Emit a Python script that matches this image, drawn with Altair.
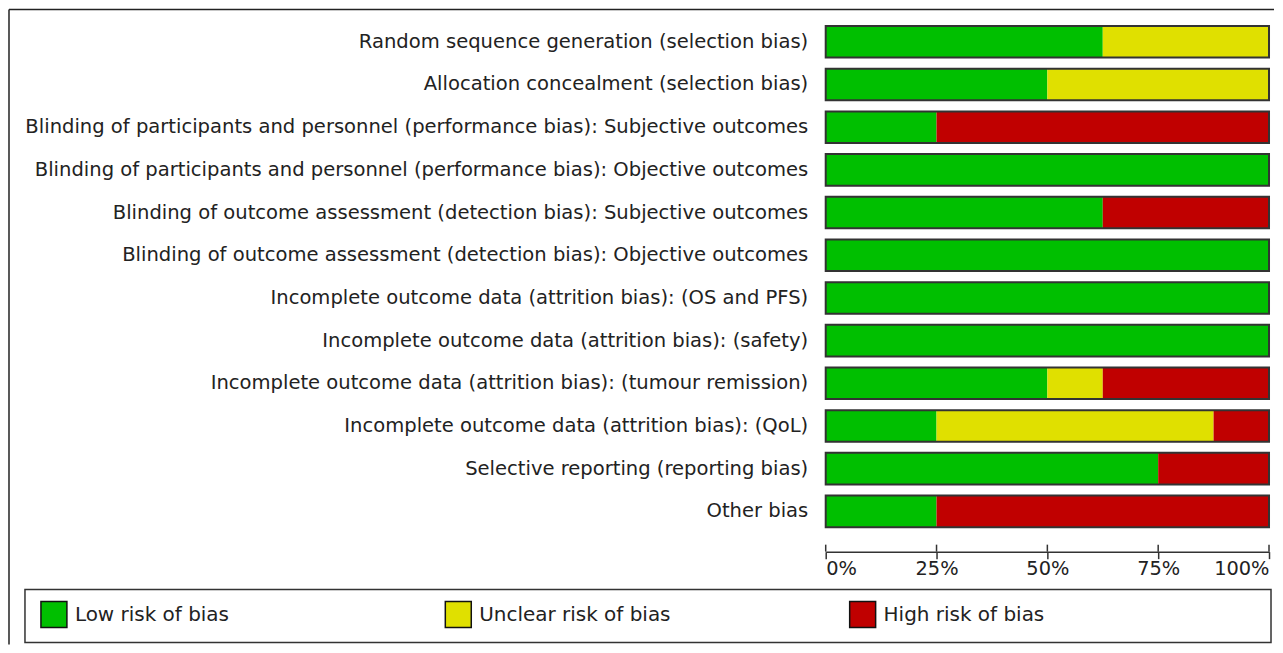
import altair as alt
import pandas as pd

domains = [
    "Random sequence generation (selection bias)",
    "Allocation concealment (selection bias)",
    "Blinding of participants and personnel (performance bias): Subjective outcomes",
    "Blinding of participants and personnel (performance bias): Objective outcomes",
    "Blinding of outcome assessment (detection bias): Subjective outcomes",
    "Blinding of outcome assessment (detection bias): Objective outcomes",
    "Incomplete outcome data (attrition bias): (OS and PFS)",
    "Incomplete outcome data (attrition bias): (safety)",
    "Incomplete outcome data (attrition bias): (tumour remission)",
    "Incomplete outcome data (attrition bias): (QoL)",
    "Selective reporting (reporting bias)",
    "Other bias",
]
low = [62.5, 50, 25, 100, 62.5, 100, 100, 100, 50, 25, 75, 25]
unclear = [37.5, 50, 0, 0, 0, 0, 0, 0, 12.5, 62.5, 0, 0]
high = [0, 0, 75, 0, 37.5, 0, 0, 0, 37.5, 12.5, 25, 75]

categories = ["Low risk of bias", "Unclear risk of bias", "High risk of bias"]
colors = ["#00BF00", "#E0E000", "#C00000"]
ticks = [0, 25, 50, 75, 100]

rows = []
for i, d in enumerate(domains):
    for k, (cat, vals) in enumerate(zip(categories, [low, unclear, high])):
        rows.append({"domain": d, "risk": cat, "value": vals[i], "order": k})
df = pd.DataFrame(rows)
df_tot = pd.DataFrame({"domain": domains, "start": [0] * len(domains), "end": [100] * len(domains)})
df_ticks = pd.DataFrame({"t": ticks})

FONT = "DejaVu Sans"
W, H = 444, 513

yenc = alt.Y(
    "domain:N",
    sort=domains,
    title=None,
    scale=alt.Scale(paddingInner=0.26, paddingOuter=0.13),
    axis=alt.Axis(
        ticks=False, domain=False, labelLimit=0, labelFontSize=19.6, labelFont=FONT,
        labelColor="#222", labelPadding=18,
    ),
)

bars = alt.Chart(df).mark_bar(strokeWidth=0).encode(
    x=alt.X(
        "value:Q",
        stack="zero",
        title=None,
        scale=alt.Scale(domain=[0, 100], nice=False),
        axis=alt.Axis(
            values=ticks, labelExpr="datum.value + '%'", offset=19, tickSize=7,
            tickColor="#333", tickWidth=1.5, domainColor="#333", domainWidth=1.5,
            labelFlush=True, labelFontSize=19.4, labelFont=FONT, labelColor="#222",
            labelPadding=1, grid=False,
        ),
    ),
    y=yenc,
    color=alt.Color(
        "risk:N",
        scale=alt.Scale(domain=categories, range=colors),
        legend=alt.Legend(
            orient="none", legendX=-787, legendY=581, direction="horizontal",
            title=None, symbolType="square", symbolSize=676, symbolStrokeColor="#111",
            symbolStrokeWidth=1.5, symbolOpacity=1, labelFontSize=20, labelFont=FONT,
            labelColor="#222", labelOffset=7, labelLimit=400, columnPadding=176,
            gridAlign="all", columns=3,
        ),
    ),
    order=alt.Order("order:Q"),
)

outline = alt.Chart(df_tot).mark_bar(fillOpacity=0, stroke="#333", strokeWidth=2).encode(
    x=alt.X("start:Q"), x2="end:Q", y=yenc
)

tick_up = alt.Chart(df_ticks).mark_rule(color="#333", strokeWidth=1.5).encode(
    x=alt.X("t:Q"), y=alt.value(H + 12), y2=alt.value(H + 19)
)

one = alt.Data(values=[{}])
legend_box = alt.Chart(one).mark_rect(fill="white", fillOpacity=0, stroke="#333", strokeWidth=1.5).encode(
    x=alt.value(-802), x2=alt.value(446), y=alt.value(570), y2=alt.value(623)
)
frame_left = alt.Chart(one).mark_rule(color="#222", strokeWidth=1.5).encode(
    x=alt.value(-818), y=alt.value(-11), y2=alt.value(625)
)
frame_top = alt.Chart(one).mark_rule(color="#222", strokeWidth=1.5).encode(
    x=alt.value(-818), x2=alt.value(449), y=alt.value(-11)
)

chart = alt.layer(frame_left, frame_top, legend_box, bars, outline, tick_up).properties(
    width=W, height=H, padding=0, background="white"
).configure_view(stroke=None)

chart.save("out.html", embed_options={"renderer": "svg", "actions": False})
